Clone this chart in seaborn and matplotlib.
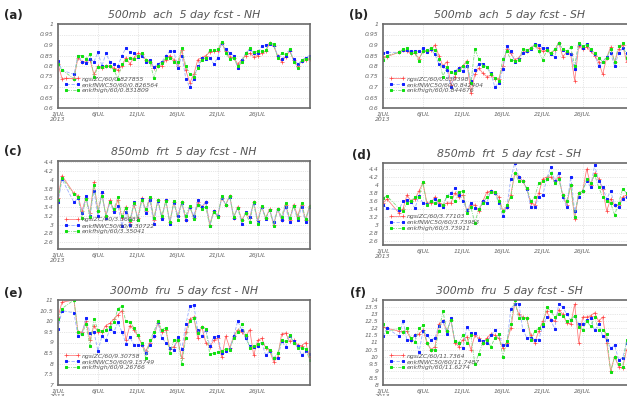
import matplotlib
matplotlib.use('Agg')
import matplotlib.pyplot as plt
import seaborn as sns
import pandas as pd

# 12-hourly verification times (half-day steps from 1JUL 00Z, 2-3JUL missing)
steps = [0, 1] + list(range(4, 64))
days = [s / 2 for s in steps]

tick_days = [0, 5, 10, 15, 20, 25]
tick_labels = ['1JUL\n2013', '6JUL', '11JUL', '16JUL', '21JUL', '26JUL']

# (a) 500mb ach NH
a_ngsi = [0.81, 0.74,
          0.74, 0.84, 0.82, 0.82, 0.83, 0.76, 0.80, 0.79, 0.80, 0.80,
          0.79, 0.78, 0.80, 0.84, 0.81, 0.84, 0.86, 0.855, 0.83, 0.82,
          0.79, 0.80, 0.80, 0.83, 0.85, 0.83, 0.80, 0.875, 0.78, 0.72,
          0.76, 0.83, 0.84, 0.85, 0.865, 0.87, 0.87, 0.91, 0.87, 0.845,
          0.84, 0.81, 0.83, 0.85, 0.86, 0.845, 0.85, 0.86, 0.87, 0.91,
          0.895, 0.85, 0.82, 0.845, 0.87, 0.83, 0.80, 0.825, 0.83, 0.835]
a_nwc = [0.825, 0.78,
         0.76, 0.85, 0.82, 0.815, 0.835, 0.82, 0.865, 0.80, 0.86, 0.82,
         0.81, 0.80, 0.85, 0.885, 0.865, 0.86, 0.845, 0.85, 0.82, 0.83,
         0.795, 0.81, 0.82, 0.85, 0.87, 0.87, 0.79, 0.85, 0.74, 0.70,
         0.74, 0.80, 0.84, 0.835, 0.84, 0.81, 0.84, 0.91, 0.88, 0.86,
         0.85, 0.79, 0.83, 0.86, 0.88, 0.86, 0.86, 0.895, 0.90, 0.905,
         0.90, 0.85, 0.835, 0.85, 0.875, 0.835, 0.81, 0.825, 0.84, 0.85]
a_high = [0.81, 0.78,
          0.74, 0.85, 0.85, 0.835, 0.855, 0.75, 0.795, 0.795, 0.80, 0.80,
          0.78, 0.74, 0.81, 0.83, 0.84, 0.835, 0.85, 0.86, 0.83, 0.82,
          0.745, 0.80, 0.815, 0.84, 0.84, 0.82, 0.82, 0.885, 0.80, 0.76,
          0.75, 0.79, 0.83, 0.84, 0.875, 0.875, 0.88, 0.915, 0.86, 0.835,
          0.84, 0.80, 0.82, 0.86, 0.885, 0.865, 0.87, 0.87, 0.875, 0.91,
          0.905, 0.84, 0.86, 0.855, 0.88, 0.82, 0.79, 0.83, 0.835, 0.84]

# (b) 500mb ach SH
b_ngsi = [0.845, 0.845,
          0.865, 0.875, 0.87, 0.86, 0.86, 0.835, 0.87, 0.87, 0.875, 0.90,
          0.85, 0.80, 0.82, 0.71, 0.75, 0.79, 0.80, 0.825, 0.67, 0.76,
          0.79, 0.765, 0.75, 0.755, 0.74, 0.74, 0.80, 0.88, 0.86, 0.83,
          0.84, 0.865, 0.87, 0.885, 0.90, 0.885, 0.87, 0.875, 0.86, 0.875,
          0.91, 0.845, 0.865, 0.855, 0.73, 0.895, 0.88, 0.89, 0.87, 0.85,
          0.82, 0.76, 0.84, 0.89, 0.82, 0.88, 0.90, 0.82, 0.85, 0.86]
b_nwc = [0.86, 0.865,
         0.865, 0.875, 0.875, 0.87, 0.87, 0.87, 0.885, 0.865, 0.88, 0.855,
         0.81, 0.80, 0.78, 0.70, 0.775, 0.79, 0.775, 0.80, 0.73, 0.78,
         0.81, 0.81, 0.795, 0.765, 0.70, 0.72, 0.785, 0.895, 0.87, 0.82,
         0.835, 0.86, 0.87, 0.88, 0.905, 0.90, 0.885, 0.885, 0.855, 0.845,
         0.91, 0.875, 0.86, 0.855, 0.785, 0.905, 0.885, 0.905, 0.875, 0.855,
         0.80, 0.82, 0.845, 0.86, 0.80, 0.86, 0.885, 0.86, 0.85, 0.86]
b_high = [0.83, 0.85,
          0.865, 0.88, 0.885, 0.86, 0.865, 0.825, 0.87, 0.875, 0.885, 0.875,
          0.835, 0.75, 0.795, 0.77, 0.765, 0.78, 0.80, 0.82, 0.72, 0.88,
          0.835, 0.80, 0.795, 0.76, 0.745, 0.73, 0.835, 0.87, 0.83, 0.825,
          0.83, 0.88, 0.875, 0.885, 0.90, 0.87, 0.83, 0.875, 0.86, 0.88,
          0.91, 0.88, 0.87, 0.89, 0.80, 0.91, 0.895, 0.90, 0.88, 0.86,
          0.84, 0.82, 0.84, 0.88, 0.82, 0.895, 0.91, 0.84, 0.85, 0.86]

# (c) 850mb frt NH
c_ngsi = [3.6, 4.1,
          3.7, 3.65, 3.3, 3.6, 3.25, 3.95, 3.3, 3.7, 3.2, 3.55,
          3.3, 3.55, 3.15, 3.4, 3.05, 3.45, 3.15, 3.6, 3.3, 3.6,
          3.1, 3.55, 3.15, 3.55, 3.05, 3.5, 3.2, 3.5, 3.1, 3.4,
          3.15, 3.5, 3.4, 3.5, 3.0, 3.3, 3.2, 3.6, 3.45, 3.65,
          3.15, 3.4, 3.1, 3.25, 3.15, 3.5, 3.1, 3.4, 3.15, 3.35,
          3.0, 3.35, 3.1, 3.45, 3.1, 3.45, 3.2, 3.45, 3.1, 3.42]
c_nwc = [3.5, 4.02,
         3.5, 3.6, 3.25, 3.65, 3.2, 3.75, 3.2, 3.73, 3.15, 3.5,
         3.28, 3.42, 2.97, 3.28, 3.0, 3.5, 3.1, 3.58, 3.25, 3.55,
         3.02, 3.52, 3.12, 3.55, 3.02, 3.48, 3.2, 3.48, 3.1, 3.4,
         3.2, 3.55, 3.4, 3.5, 2.97, 3.3, 3.2, 3.6, 3.45, 3.62,
         3.15, 3.38, 3.02, 3.28, 3.18, 3.48, 3.05, 3.4, 3.12, 3.32,
         3.05, 3.35, 3.1, 3.4, 3.05, 3.42, 3.1, 3.4, 3.05, 3.4]
c_high = [3.55, 4.05,
          3.68, 3.62, 3.15, 3.58, 3.18, 3.9, 3.3, 3.65, 3.2, 3.5,
          3.35, 3.62, 3.2, 3.38, 3.1, 3.48, 3.1, 3.55, 3.35, 3.62,
          3.15, 3.55, 3.2, 3.52, 3.05, 3.52, 3.1, 3.5, 3.2, 3.42,
          3.12, 3.45, 3.35, 3.4, 2.96, 3.28, 3.18, 3.65, 3.45, 3.65,
          3.18, 3.38, 3.1, 3.25, 3.05, 3.5, 3.02, 3.42, 3.15, 3.33,
          2.97, 3.35, 3.18, 3.48, 3.15, 3.42, 3.15, 3.48, 3.12, 3.42]

# (d) 850mb frt SH
d_ngsi = [3.55, 3.65,
          3.3, 3.4, 3.75, 3.6, 3.65, 3.85, 4.05, 3.55, 3.55, 3.7,
          3.55, 3.5, 3.55, 3.55, 3.8, 3.7, 3.75, 3.35, 3.5, 3.5,
          3.35, 3.6, 3.82, 3.85, 3.8, 3.7, 3.35, 3.45, 3.75, 4.3,
          4.2, 4.1, 3.9, 3.55, 3.5, 3.8, 4.15, 4.2, 4.2, 4.1,
          4.2, 3.75, 3.5, 4.0, 3.15, 3.8, 3.85, 4.4, 4.0, 4.3,
          4.15, 3.9, 3.35, 3.65, 3.5, 3.5, 3.7, 3.75, 3.6, 3.7]
d_nwc = [3.5, 3.42,
         3.38, 3.6, 3.62, 3.58, 3.42, 3.72, 3.55, 3.52, 3.6, 3.65,
         3.5, 3.45, 3.72, 3.8, 3.92, 3.75, 3.6, 3.38, 3.55, 3.42,
         3.4, 3.6, 3.55, 3.85, 3.8, 3.55, 3.22, 3.45, 4.15, 4.55,
         4.2, 4.1, 3.9, 3.45, 3.45, 3.7, 3.75, 4.15, 4.45, 4.1,
         4.3, 3.7, 3.45, 4.2, 3.35, 3.7, 3.85, 4.1, 3.95, 4.5,
         4.1, 3.95, 3.65, 3.85, 3.5, 3.45, 3.65, 3.7, 3.6, 3.7]
d_high = [3.68, 3.72,
          3.42, 3.35, 3.55, 3.6, 3.7, 3.7, 4.07, 3.5, 3.6, 3.55,
          3.62, 3.5, 3.72, 3.7, 3.6, 3.82, 3.85, 3.3, 3.45, 3.05,
          3.4, 3.55, 3.7, 3.82, 3.82, 3.6, 3.35, 3.5, 3.7, 4.3,
          4.1, 4.1, 3.92, 3.6, 3.7, 4.05, 4.1, 4.15, 4.3, 4.05,
          4.15, 3.75, 3.6, 4.0, 3.2, 3.8, 3.85, 4.15, 4.05, 4.25,
          3.95, 3.7, 3.6, 3.55, 3.25, 3.55, 3.9, 3.8, 3.6, 3.7]

# (e) 300mb fru NH
e_ngsi = [10.2, 10.9,
          11.0, 9.5, 9.5, 10.0, 9.1, 9.8, 9.5, 9.5, 9.8, 9.9,
          10.1, 10.3, 10.5, 9.1, 9.8, 9.6, 9.3, 8.9, 8.6, 9.0,
          9.3, 9.9, 9.5, 9.6, 8.7, 8.8, 9.1, 8.25, 9.5, 10.1,
          10.2, 9.2, 9.75, 9.0, 8.8, 9.1, 9.2, 8.3, 9.3, 8.75,
          9.3, 9.6, 9.5, 9.3, 9.6, 8.4, 9.1, 9.2, 8.75, 8.6,
          8.1, 8.3, 9.4, 9.45, 9.05, 9.1, 8.9, 8.85, 9.0, 8.3]
e_nwc = [9.65, 10.5,
         10.4, 9.3, 9.4, 10.15, 9.45, 9.5, 8.6, 9.3, 9.1, 9.65,
         9.5, 9.95, 9.5, 8.95, 9.25, 8.9, 8.9, 8.9, 8.5, 8.9,
         9.3, 9.95, 9.2, 9.0, 8.75, 8.65, 9.25, 8.7, 9.85, 10.7,
         10.75, 9.6, 9.3, 9.6, 8.85, 9.25, 9.3, 8.5, 8.6, 8.7,
         9.3, 10.0, 9.6, 9.2, 8.85, 8.8, 8.85, 9.0, 8.4, 8.6,
         8.25, 8.25, 9.05, 8.8, 9.3, 9.05, 8.85, 8.4, 8.6, 8.45]
e_high = [10.1, 10.6,
          11.0, 9.5, 9.4, 9.85, 8.85, 10.1, 9.6, 9.55, 9.6, 9.75,
          9.95, 10.6, 10.7, 10.0, 9.95, 9.7, 9.35, 9.0, 8.25, 9.1,
          9.5, 10.0, 9.6, 9.7, 8.5, 9.1, 9.1, 8.0, 9.2, 10.0,
          10.15, 9.45, 9.75, 9.65, 8.45, 8.5, 8.55, 8.6, 8.7, 8.65,
          9.2, 9.5, 9.85, 9.35, 8.75, 8.85, 8.95, 9.0, 8.8, 8.65,
          8.25, 8.5, 9.1, 9.05, 9.35, 9.0, 8.75, 8.75, 8.7, 8.2]

# (f) 300mb fru SH
f_ngsi = [12.1, 12.0,
          11.8, 11.75, 11.8, 11.2, 11.5, 11.6, 11.9, 11.0, 10.5, 10.7,
          12.3, 12.5, 11.8, 12.6, 11.0, 10.7, 11.2, 11.4, 10.5, 11.5,
          11.3, 11.0, 11.3, 11.6, 11.5, 11.3, 10.6, 11.0, 12.0, 13.8,
          13.0, 12.8, 12.7, 11.5, 11.0, 11.8, 12.5, 13.2, 12.6, 12.5,
          13.3, 13.0, 12.4, 12.3, 13.7, 11.0, 12.8, 12.8, 12.9, 13.1,
          12.5, 12.8, 11.0, 9.0, 10.0, 9.3, 9.2, 10.5, 11.0, 11.2]
f_nwc = [11.45, 12.0,
         11.45, 12.55, 11.15, 11.2, 11.5, 10.3, 11.8, 11.5, 11.2, 11.3,
         12.2, 12.5, 11.6, 12.7, 11.1, 11.0, 10.6, 12.1, 11.65, 11.65,
         11.2, 11.1, 11.0, 11.5, 11.85, 11.6, 10.8, 10.8, 13.4, 13.7,
         13.75, 11.9, 11.35, 11.35, 11.2, 11.2, 12.2, 12.8, 12.6, 11.95,
         13.75, 13.5, 13.0, 12.6, 12.9, 12.3, 12.3, 12.6, 12.7, 11.85,
         12.3, 11.45, 11.2, 10.6, 10.8, 9.8, 9.9, 11.0, 11.2, 11.3]
f_high = [12.3, 11.75,
          12.0, 11.75, 12.0, 11.3, 11.05, 12.0, 12.25, 11.0, 10.5, 10.5,
          11.8, 13.2, 11.8, 12.6, 11.1, 11.0, 11.5, 11.0, 11.5, 9.5,
          10.2, 11.0, 11.2, 10.7, 11.3, 11.6, 10.0, 11.1, 12.3, 14.0,
          12.7, 12.75, 12.7, 11.2, 11.8, 12.0, 12.3, 13.5, 13.2, 12.8,
          13.0, 12.9, 12.5, 12.6, 12.9, 12.1, 11.9, 12.5, 12.15, 12.8,
          11.9, 11.9, 11.6, 8.9, 10.0, 9.5, 9.3, 11.2, 11.3, 11.4]

panel_tags = ['(a)', '(b)', '(c)', '(d)', '(e)', '(f)']
titles = ['500mb  ach  5 day fcst - NH', '500mb  ach  5 day fcst - SH',
          '850mb  frt  5 day fcst - NH', '850mb  frt  5 day fcst - SH',
          '300mb  fru  5 day fcst - NH', '300mb  fru  5 day fcst - SH']
scores = [('0.827855', '0.826564', '0.831809'),
          ('0.839398', '0.842404', '0.844676'),
          ('3.36087', '3.30722', '3.35041'),
          ('3.77103', '3.73983', '3.73911'),
          ('9.30758', '9.15749', '9.26766'),
          ('11.7364', '11.7487', '11.6274')]
series = [(a_ngsi, a_nwc, a_high), (b_ngsi, b_nwc, b_high),
          (c_ngsi, c_nwc, c_high), (d_ngsi, d_nwc, d_high),
          (e_ngsi, e_nwc, e_high), (f_ngsi, f_nwc, f_high)]
ylims = [(0.6, 1.0), (0.6, 1.0), (2.45, 4.43), (2.5, 4.55), (7, 11), (8, 14)]
yticks = [[0.6 + 0.05 * k for k in range(9)], [0.6 + 0.05 * k for k in range(9)],
          [2.6 + 0.2 * k for k in range(10)], [2.6 + 0.2 * k for k in range(10)],
          [7 + 0.5 * k for k in range(9)], [8 + 0.5 * k for k in range(13)]]

sns.set_style('white')
plt.rcParams['font.family'] = ['DejaVu Sans']

fig = plt.figure(figsize=(6.27, 3.96), dpi=100)
W, H = 627, 396
# axes boxes in pixels: left, top, right, bottom (right column runs off the page)
boxes = [(58, 24, 310, 108), (383, 24, 635, 108),
         (58, 161, 310, 249), (383, 163, 635, 245),
         (58, 300, 310, 385), (383, 300, 635, 385)]
tag_pos = [(4, 15), (349, 15), (4, 152), (352, 155), (4, 294), (350, 293)]

for k in range(6):
    l, t, r, b = boxes[k]
    ax = fig.add_axes([l / W, 1 - b / H, (r - l) / W, (b - t) / H])
    ngsi, nwc, high = series[k]
    s1, s2, s3 = scores[k]
    df = pd.DataFrame({'day': days, 'ngsi': ngsi, 'nwc': nwc, 'high': high})

    sns.lineplot(data=df, x='day', y='ngsi', ax=ax, color='#ff8080', lw=0.6,
                 marker='+', markersize=2.2, mew=0.5, mec='#ff4040',
                 label='ngsiZC/60/' + s1)
    sns.lineplot(data=df, x='day', y='nwc', ax=ax, color='#9aaeff', lw=0.6,
                 linestyle=(0, (4, 2)), marker='s', markersize=1.8,
                 mfc='#1020ff', mec='#1020ff', label='enkfNWC50/60/' + s2)
    sns.lineplot(data=df, x='day', y='high', ax=ax, color='#80dc80', lw=0.6,
                 linestyle=(0, (4, 1.5, 1, 1.5)), marker='s', markersize=1.8,
                 mfc='#10e010', mec='#10e010', label='enkfhigh/60/' + s3)

    ax.set_xlim(0, 31.55)
    ax.set_ylim(*ylims[k])
    ax.set_xticks(tick_days)
    ax.set_xticklabels(tick_labels, fontsize=4.4, fontstyle='italic', color='#666666',
                       linespacing=0.85)
    ax.set_yticks(yticks[k])
    ax.set_yticklabels(['%g' % round(v, 2) for v in yticks[k]], fontsize=4.4,
                       fontstyle='italic', color='#666666')
    ax.tick_params(length=2, width=0.5, color='#777777', pad=1.2)
    ax.set_xlabel('')
    ax.set_ylabel('')
    ax.grid(True, linestyle=':', linewidth=0.5, color='#cfcfcf')
    for sp in ax.spines.values():
        sp.set_color('#6a6a6a')
        sp.set_linewidth(1.2)
    ax.set_title(titles[k], fontsize=7.8, fontstyle='italic', color='#555555', pad=4)
    ax.legend(loc='lower left', bbox_to_anchor=(0.01, 0.13), frameon=False,
              numpoints=2, handlelength=2.6, handletextpad=0.3, labelspacing=0.1,
              borderaxespad=0.2,
              prop={'size': 4.4, 'style': 'italic'}, labelcolor='#555555')
    fig.text(tag_pos[k][0] / W, 1 - tag_pos[k][1] / H, panel_tags[k],
             fontsize=8.5, fontweight='bold', va='center', ha='left')

fig.savefig('out.png', dpi=100)
